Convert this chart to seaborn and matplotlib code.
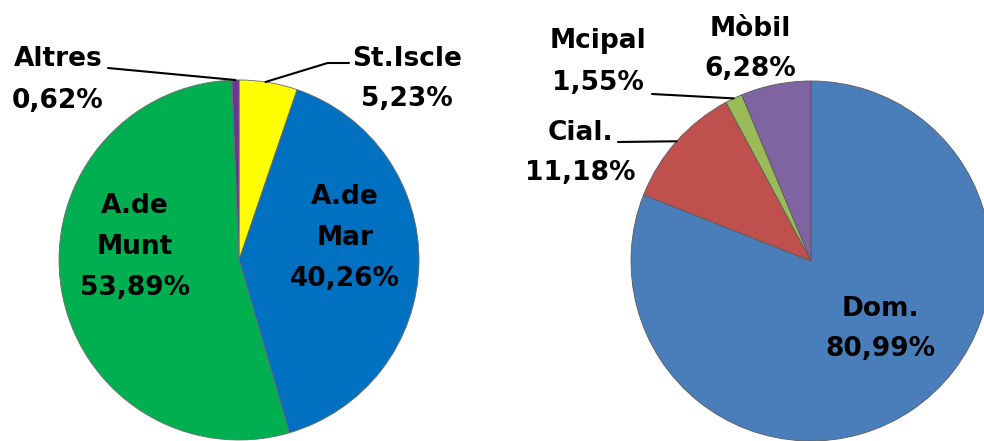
import numpy as np
import matplotlib.pyplot as plt
import seaborn as sns

sns.set_theme(style="white")
plt.rcParams["font.family"] = ["DejaVu Sans"]

# ---- data ----
zone_labels = ["St.Iscle", "A.de\nMar", "A.de\nMunt", "Altres"]
zone_values = [5.23, 40.26, 53.89, 0.62]
zone_colors = ["#FFFF00", "#0070C0", "#00B050", "#7030A0"]

use_labels = ["Dom.", "Cial.", "Mcipal", "Mòbil"]
use_values = [80.99, 11.18, 1.55, 6.28]
use_colors = ["#4A7EBB", "#C0504D", "#9BBB59", "#8064A2"]

W, H = 984, 441
fig = plt.figure(figsize=(W / 100, H / 100), dpi=100)


def pie_axes(cx, cy, r):
    # axes placed so the pie of radius 1 sits at pixel centre (cx, cy)
    return fig.add_axes([(cx - r) / W, (H - cy - r) / H, 2 * r / W, 2 * r / H])


def fix_limits(ax):
    ax.set_xlim(-1, 1)
    ax.set_ylim(-1, 1)
    ax.axis("off")


def fmt(v):
    return f"{v:.2f}".replace(".", ",") + "%"


def label(x, y, txt):
    fig.text(x / W, 1 - y / H, txt, ha="center", va="center",
             fontsize=19, fontweight="bold", color="black", linespacing=1.75)


def edge_point(w, frac=0.5):
    ang = np.deg2rad(w.theta1 + (w.theta2 - w.theta1) * frac)
    return np.cos(ang), np.sin(ang)


def connector(ax, w, x, y, frac=0.5, conn="arc3"):
    ax.annotate("", xy=edge_point(w, frac), xycoords="data",
                xytext=(x / W, 1 - y / H), textcoords="figure fraction",
                arrowprops=dict(arrowstyle="-", color="black", lw=1.5,
                                shrinkA=0, shrinkB=0, connectionstyle=conn),
                annotation_clip=False)


# ---- left pie ----
ax1 = pie_axes(239, 260, 180)
w1, _ = ax1.pie(zone_values, colors=zone_colors, startangle=90, counterclock=False,
                wedgeprops=dict(edgecolor="#6b6b6b", linewidth=0.6))
fix_limits(ax1)
label(58, 80, f"{zone_labels[3]}\n{fmt(zone_values[3])}")
label(407, 79, f"{zone_labels[0]}\n{fmt(zone_values[0])}")
label(135, 247, f"{zone_labels[2]}\n{fmt(zone_values[2])}")
label(345, 238, f"{zone_labels[1]}\n{fmt(zone_values[1])}")
connector(ax1, w1[3], 108, 68)
connector(ax1, w1[0], 349, 63, frac=0.55, conn="angle,angleA=0,angleB=17,rad=0")

# ---- right pie ----
ax2 = pie_axes(811, 261, 180)
w2, _ = ax2.pie(use_values, colors=use_colors, startangle=90, counterclock=False,
                wedgeprops=dict(edgecolor="#5a5a5a", linewidth=0.6))
fix_limits(ax2)
label(750, 49, f"{use_labels[3]}\n{fmt(use_values[3])}")
label(598, 62, f"{use_labels[2]}\n{fmt(use_values[2])}")
label(580, 153, f"{use_labels[1]}\n{fmt(use_values[1])}")
label(880, 329, f"{use_labels[0]}\n{fmt(use_values[0])}")
connector(ax2, w2[2], 652, 94)
connector(ax2, w2[1], 618, 142)

fig.savefig("out.png", dpi=100, facecolor="white")
